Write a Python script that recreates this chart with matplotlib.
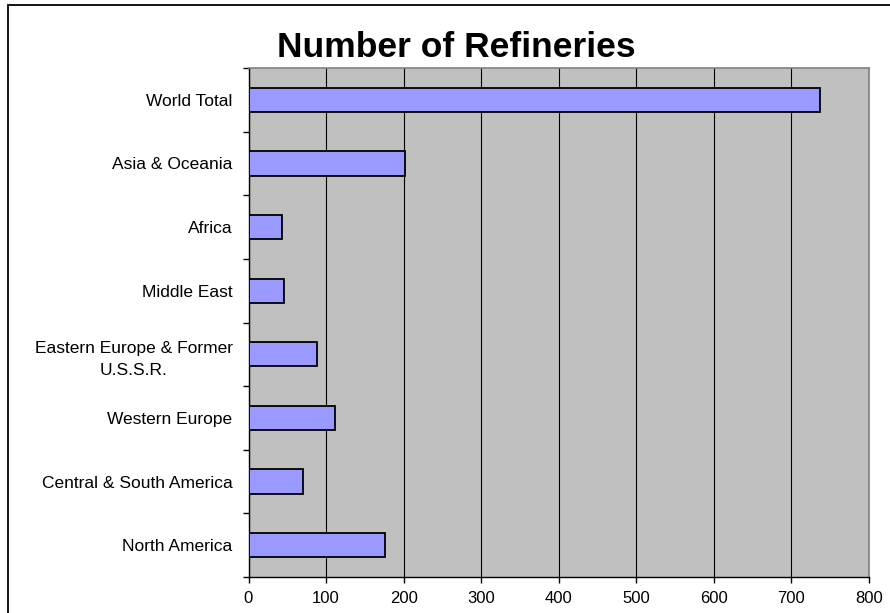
import numpy as np
import matplotlib
matplotlib.use("Agg")
import matplotlib.pyplot as plt
from matplotlib.patches import Rectangle

# data, bottom to top as drawn
regions = ["North America", "Central & South America", "Western Europe",
           "Eastern Europe & Former\nU.S.S.R.", "Middle East", "Africa",
           "Asia & Oceania", "World Total"]
refineries = [176, 70, 111, 88, 46, 43, 202, 737]
xticks = [0, 100, 200, 300, 400, 500, 600, 700, 800]

plt.rcParams['font.family'] = ['Liberation Sans', 'DejaVu Sans']

W, H = 890, 613
fig = plt.figure(figsize=(W / 100, H / 100), dpi=100)
ax = fig.add_axes([248.5 / W, 1 - 577 / H, (869 - 248.5) / W, (577 - 68) / H])

ypos = np.arange(len(regions))
ax.barh(ypos, refineries, height=0.38, color="#9999FF", edgecolor="black",
        linewidth=1.3, zorder=3)

ax.set_facecolor("#C0C0C0")
ax.set_xlim(0, 800)
ax.set_ylim(-0.5, len(regions) - 0.5)
ax.set_xticks(xticks)
ax.set_xticklabels([str(v) for v in xticks], fontsize=12)
ax.xaxis.grid(True, color="black", linewidth=0.8, zorder=1)
ax.set_axisbelow(True)

ax.set_yticks(ypos)
ax.set_yticklabels(regions, fontsize=12.5)
ax.set_yticks(np.arange(len(regions) + 1) - 0.5, minor=True)
ax.tick_params(axis="y", which="major", length=0, pad=11.5)
ax.tick_params(axis="y", which="minor", length=4, width=1, direction="out")
ax.tick_params(axis="x", length=4, width=1, direction="out", pad=6)
for lbl in ax.get_yticklabels():
    if "\n" in lbl.get_text():
        lbl.set_multialignment("center")
        lbl.set_linespacing(1.6)

for s in ["left", "bottom"]:
    ax.spines[s].set_color("black")
    ax.spines[s].set_linewidth(1)
for s in ["top", "right"]:
    ax.spines[s].set_color("#808080")
    ax.spines[s].set_linewidth(1.2)

fig.text(456 / W, 1 - 57 / H, "Number of Refineries", fontsize=25.5,
         fontweight="bold", ha="center", va="baseline")

# chart area frame (runs off the right and bottom of the image)
fig.patches.append(Rectangle((8 / W, -0.2), 2, 1.2 - 5 / H,
                             transform=fig.transFigure, fill=False,
                             edgecolor="black", linewidth=1.3))

fig.savefig("out.png", dpi=100)
